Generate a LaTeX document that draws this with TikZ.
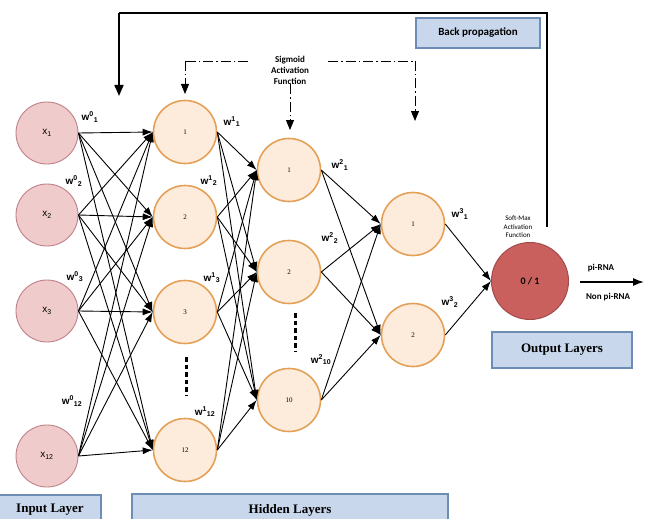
\documentclass[tikz,border=0pt]{standalone}
\usepackage{fontspec}
\setmainfont{Liberation Serif}
\setsansfont{Liberation Sans}
\newfontfamily\calfont{Carlito}
\usetikzlibrary{arrows.meta}
\definecolor{inpfill}{HTML}{EFCBCB}
\definecolor{inpborder}{HTML}{C08088}
\definecolor{hidfill}{HTML}{FDEBDC}
\definecolor{hidborder}{HTML}{E5A058}
\definecolor{outfill}{HTML}{C9605E}
\definecolor{outborder}{HTML}{A24A4A}
\definecolor{boxfill}{HTML}{C8D7EC}
\definecolor{boxborder}{HTML}{6D8DB5}
\begin{document}
\begin{tikzpicture}[x=1pt,y=-1pt,
  inp/.style={circle, draw=inpborder, fill=inpfill, line width=0.9pt, minimum size=62pt, inner sep=0pt, font=\sffamily\fontsize{10}{11}\selectfont},
  hid/.style={circle, draw=hidborder, fill=hidfill, line width=1.6pt, minimum size=63pt, inner sep=0pt, font=\fontsize{7}{8}\selectfont},
  outn/.style={circle, draw=outborder, fill=outfill, line width=1pt, minimum size=77pt, inner sep=0pt, font=\calfont\bfseries\fontsize{10}{11}\selectfont},
  conn/.style={-{Latex[length=10pt,width=7pt]}, line width=0.9pt},
  wlab/.style={font=\sffamily\bfseries\fontsize{10}{11}\selectfont, inner sep=0pt},
  small/.style={font=\calfont\bfseries\fontsize{9}{11}\selectfont, align=center, inner sep=0pt},
  tiny/.style={font=\calfont\fontsize{7}{8.5}\selectfont, align=center, inner sep=0pt},
  layerbox/.style={draw=boxborder, fill=boxfill, line width=1.5pt, inner sep=0pt, font=\bfseries\fontsize{13}{15}\selectfont},
  sdash/.style={dash pattern=on 10pt off 3pt on 1.5pt off 3pt, line width=0.9pt},
  sarrow/.style={-{Triangle[length=10pt,width=8pt]}},
  dots/.style={line width=3pt, dash pattern=on 4.5pt off 3pt},
  bp/.style={line width=1.6pt}
]
\useasboundingbox (0,0) rectangle (651,519);

% input layer
\node[inp] (x1) at (47,133) {x\textsubscript{1}};
\node[inp] (x2) at (47,215) {x\textsubscript{2}};
\node[inp] (x3) at (47,311) {x\textsubscript{3}};
\node[inp] (x12) at (47,456) {x\textsubscript{12}};

% hidden layer 1
\node[hid] (h11) at (185,132) {1};
\node[hid] (h12) at (185,217) {2};
\node[hid] (h13) at (185,312) {3};
\node[hid] (h112) at (185,450) {12};

% hidden layer 2
\node[hid] (h21) at (289,170) {1};
\node[hid] (h22) at (289,272) {2};
\node[hid] (h210) at (289,400) {10};

% hidden layer 3
\node[hid] (h31) at (413,224) {1};
\node[hid] (h32) at (413,335) {2};

% output
\node[outn] (out) at (530,281) {0 / 1};

% connections
\foreach \s in {x1,x2,x3,x12}
  \foreach \t in {h11,h12,h13,h112}
    \draw[conn] (\s.east) -- (\t.west);
\foreach \s in {h11,h12,h13,h112}
  \foreach \t in {h21,h22,h210}
    \draw[conn] (\s.east) -- (\t.west);
\foreach \s in {h21,h22,h210}
  \foreach \t in {h31,h32}
    \draw[conn] (\s.east) -- (\t.west);
\foreach \s in {h31,h32}
  \draw[conn] (\s.east) -- (out.west);

% weight labels
\node[wlab] (w01) at (90,117) {w\textsuperscript{0}\textsubscript{1}};
\node[wlab] (w02) at (74,181) {w\textsuperscript{0}\textsubscript{2}};
\node[wlab] (w03) at (75,277) {w\textsuperscript{0}\textsubscript{3}};
\node[wlab] (w012) at (72,401) {w\textsuperscript{0}\textsubscript{12}};
\node[wlab] (w11) at (232,122) {w\textsuperscript{1}\textsubscript{1}};
\node[wlab] (w12) at (209,181) {w\textsuperscript{1}\textsubscript{2}};
\node[wlab] (w13) at (212,278) {w\textsuperscript{1}\textsubscript{3}};
\node[wlab] (w112) at (205,412) {w\textsuperscript{1}\textsubscript{12}};
\node[wlab] (w21) at (340,165) {w\textsuperscript{2}\textsubscript{1}};
\node[wlab] (w22) at (330,238) {w\textsuperscript{2}\textsubscript{2}};
\node[wlab] (w210) at (321,360) {w\textsuperscript{2}\textsubscript{10}};
\node[wlab] (w31) at (460,214) {w\textsuperscript{3}\textsubscript{1}};
\node[wlab] (w32) at (450,302) {w\textsuperscript{3}\textsubscript{2}};

% ellipsis dots
\draw[dots] (186,357) -- (186,396);
\draw[dots] (295,313) -- (295,352);

% sigmoid activation
\node[small] (sig) at (290,70) {Sigmoid\\Activation\\Function};
\coordinate (sl1) at (248,61);
\coordinate (sl2) at (185,61);
\coordinate (sl3) at (185,94);
\coordinate (sm) at (290,130);
\coordinate (sr1) at (328,61);
\coordinate (sr2) at (415,61);
\coordinate (sr3) at (415,121);
\draw[sdash] (sl1) -- (sl2);
\draw[sdash, sarrow] (sl2) -- (sl3);
\draw[sdash, sarrow] (sig.south) -- (sm);
\draw[sdash] (sr1) -- (sr2);
\draw[sdash, sarrow] (sr2) -- (sr3);

% softmax label
\node[tiny] (smx) at (518,227) {Soft-Max\\Activation\\Function};

% back propagation
\coordinate (bp1) at (547,227);
\coordinate (bp2) at (547,13);
\coordinate (bp3) at (119,13);
\coordinate (bp4) at (119,96);
\draw[bp] (bp1) -- (bp2) -- (bp3);
\draw[bp, -{Triangle[length=11pt,width=9pt]}] (bp3) -- (bp4);
\node[layerbox, font=\calfont\bfseries\fontsize{11}{13}\selectfont, minimum width=124pt, minimum height=30pt] (bpbox) at (478,33) {Back propagation};

% output arrow
\coordinate (pa) at (580,282);
\coordinate (pb) at (644,282);
\draw[line width=1.3pt, -{Latex[length=11pt,width=8pt]}] (pa) -- (pb);
\node[small] (pirna) at (601,268) {pi-RNA};
\node[small] (npirna) at (608,297) {Non pi-RNA};

% layer boxes
\node[layerbox, minimum width=140pt, minimum height=36pt] (outbox) at (562,350) {Output Layers};
\node[layerbox, minimum width=102pt, minimum height=30pt] (inbox) at (50,510) {Input Layer};
\node[layerbox, minimum width=316pt, minimum height=32pt] (hidbox) at (290,510) {Hidden Layers};
\end{tikzpicture}
\end{document}
